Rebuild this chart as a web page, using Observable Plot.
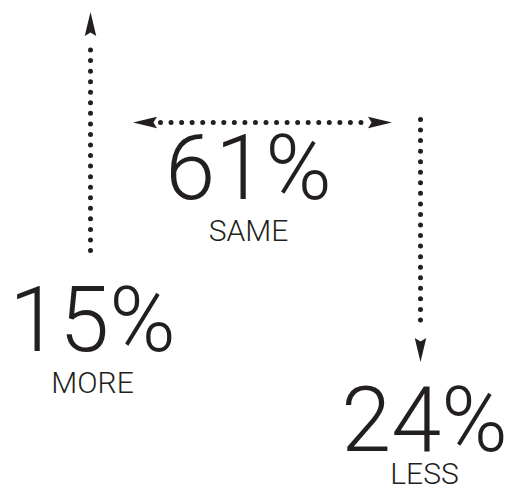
<!DOCTYPE html>
<html>
<head>
<meta charset="utf-8">
<script src="https://cdn.jsdelivr.net/npm/d3@7"></script>
<script src="https://cdn.jsdelivr.net/npm/@observablehq/plot@0.6"></script>
<style>
  html, body { margin: 0; padding: 0; background: #fff; }
  #chart svg { display: block; }
</style>
</head>
<body>
<div id="chart"></div>
<script>
// ---- data ----
const categories = ["MORE", "SAME", "LESS"];
const shares = [15, 61, 24];
const directions = ["up", "both", "down"];

// ---- layout (page pixels) ----
const W = 509, H = 491;
const ink = "#231f20";
const layout = {
  MORE: {cx: 92, numY: 322, labY: 383, line: [[90, 250], [90, 39]], heads: [{x: 90, y: 23.5, rot: 0, r: 12}]},
  SAME: {cx: 248, numY: 170, labY: 231, line: [[160, 122], [364, 122]], heads: [{x: 144.5, y: 122, rot: 270, r: 12}, {x: 379.5, y: 122, rot: 90, r: 12}]},
  LESS: {cx: 424, numY: 422, labY: 474, line: [[420, 119], [420, 330]], heads: [{x: 420, y: 349.5, rot: 180, r: 12}]}
};

const rows = categories.map((c, i) => ({category: c, share: shares[i], direction: directions[i], ...layout[c]}));
const lines = rows.flatMap(r => r.line.map(([x, y]) => ({category: r.category, x, y})));
const heads = rows.flatMap(r => r.heads.map(h => ({category: r.category, ...h})));

// filled notched arrowhead pointing up, centered on the point
const arrowHead = {
  draw(ctx, size) {
    const r = Math.sqrt(size / Math.PI);
    ctx.moveTo(0, -r);
    ctx.lineTo(0.48 * r, r);
    ctx.lineTo(0, 0.7 * r);
    ctx.lineTo(-0.48 * r, r);
    ctx.closePath();
  }
};

const chart = Plot.plot({
  width: W,
  height: H,
  margin: 0,
  x: {domain: [0, W], range: [0, W], axis: null},
  y: {domain: [0, H], range: [0, H], axis: null},
  r: {type: "identity"},
  style: {background: "#fff", color: ink},
  marks: [
    Plot.line(lines, {x: "x", y: "y", z: "category", stroke: ink, strokeWidth: 5,
      strokeLinecap: "round", strokeDasharray: "0 10.55"}),
    Plot.dot(heads, {x: "x", y: "y", rotate: "rot", r: "r", symbol: arrowHead,
      fill: ink, stroke: "none"}),
    Plot.text(rows, {x: "cx", y: "numY", text: d => `${d.share}%`, fill: ink,
      fontSize: 90, fontWeight: 300, fontFamily: "Roboto", textAnchor: "middle",
      lineAnchor: "middle"}),
    Plot.text(rows, {x: "cx", y: "labY", text: "category", fill: ink,
      fontSize: 30, fontWeight: 300, fontFamily: "Roboto", textAnchor: "middle",
      lineAnchor: "middle", style: "letter-spacing:2.5px"})
  ]
});
document.getElementById("chart").appendChild(chart);
</script>
</body>
</html>
